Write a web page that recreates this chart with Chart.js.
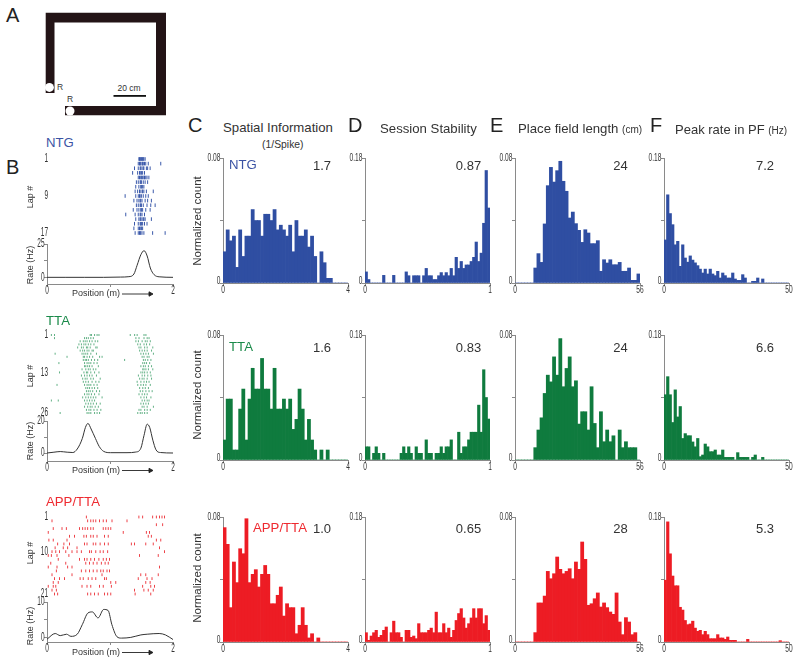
<!DOCTYPE html>
<html>
<head>
<meta charset="utf-8">
<title>Place cell panels</title>
<script src="https://cdn.jsdelivr.net/npm/chart.js@4"></script>
<style>
  html, body { margin: 0; background: #fff; }
  #page { position: relative; width: 800px; height: 663px; overflow: hidden; font-family: "Liberation Sans", Arial, sans-serif; color: #2b2b2b; }
  #page canvas { position: absolute; }
  #page svg { position: absolute; left: 0; top: 0; }
  .t { position: absolute; white-space: nowrap; line-height: 1; }
</style>
</head>
<body>
<div id="page">
  <svg width="800" height="663">
    <!-- maze -->
    <path fill="#231416" d="M45.7 12.7H166V115.3H65V106H156V22.5H54.5V93H45.7Z"/>
    <circle cx="49.4" cy="87.4" r="4.5" fill="#fff"/>
    <circle cx="70" cy="111" r="4.5" fill="#fff"/>
    <rect x="113.5" y="95" width="32.5" height="1.8" fill="#111"/>
    <!-- arrows next to Position (m) -->
    <g stroke="#222" fill="#222" stroke-width="0.9">
      <line x1="122" y1="294" x2="150" y2="294"/><path d="M149 291.8L153 294L149 296.2Z"/>
      <line x1="122" y1="470.5" x2="150" y2="470.5"/><path d="M149 468.3L153 470.5L149 472.7Z"/>
      <line x1="122" y1="652.5" x2="150" y2="652.5"/><path d="M149 650.3L153 652.5L149 654.7Z"/>
    </g>
  </svg>
</div>
<script>
// ---- histogram values, one array per panel (normalized count per bin) ----
const ntgInfo = [.020,.034,.027,.030,.010,.034,.017,.030,.030,.047,.040,.040,.030,.044,.044,.040,.047,.034,.037,.034,.030,.037,.020,.040,.030,.030,.034,.023,.030,.017,0,.020,.013,.003,.003,0,0,0,0,0];
const ntgStab = [.016,.005,0,0,0,0,0,.011,0,0,0,.011,0,0,0,0,.016,.0105,0,.0105,.0105,.0105,0,.0105,.021,.0105,.0105,.005,.005,.0105,.015,.0105,.015,.0105,.021,.0105,.037,.021,.031,.021,.026,.026,.031,.037,.059,.031,.043,.086,.162,.108];
const ntgLen = [0,0,0,0,0,0,.0096,.0188,.0132,.0378,.0623,.074,.0646,.0719,.0779,.0651,.0587,.0416,.0454,.038,.0337,.026,.0341,.032,.0252,.0252,.0271,.0075,.0149,.0128,.0149,.0117,.0117,.0132,.0075,.0075,.0096,.0017,.0017,.0058];
const ntgPeak = [.062,.127,.1,.084,.055,.06,.024,.055,.036,.03,.039,.033,.029,.025,.02,.0144,.02,.013,.02,.013,.0106,.0168,.0072,.0144,.0106,.0072,.0072,.0144,.0058,.0038,.0038,.012,.0072,0,0,.0024,.0024,.0072,0,.0058,0,0,0,0,0,0,0,0,0,0];

const ttaInfo = [.0128,.039,.039,.0064,.0064,.0326,.0454,.0128,.039,.0587,.0454,.0454,.065,.0454,.0454,.0326,.0587,.0326,.0326,.039,.0326,.039,.0196,.026,.0454,.0326,.0128,.026,.0128,.0064,0,.0064,0,.0064,0,0,0,0,0,0];
const ttaStab = [.019,.019,0,.0096,.019,.0096,0,.0096,0,0,0,0,0,0,.0096,.019,.0096,.019,.0096,0,.019,.0096,.0096,0,.029,.0096,.0096,0,.0096,.0096,.019,.0096,.019,.019,.029,0,0,.04,.0096,.019,.019,.029,.04,.04,.04,.079,.04,.13,.09,.059];
const ttaLen = [0,0,0,0,0,0,.0079,.0192,.027,.0426,.0543,.05,.066,.0543,.0777,.0469,.0586,.066,.0469,.0507,.023,.0309,.0309,.0192,.0469,.0234,.0079,.0309,.0117,.0192,.0117,.0155,0,.0192,.0079,.0117,.0079,.0079,.0079,0];
const ttaPeak = [.094,.12,.094,.054,.101,.062,.077,.031,.038,.035,.035,.026,.019,.031,.0048,.0072,.023,.019,.012,.012,.0144,.0072,.0072,.0144,.0038,.0038,.0038,.0038,0,.0106,.0038,.0038,.0038,.0038,0,.0038,.0072,0,0,.0038,0,0,0,0,0,0,0,0,0,0];

const appInfo = [.0732,.0625,.022,.0512,.038,.0597,.0565,.0789,.038,.0433,.0463,.0352,.0433,.049,.0433,.0245,.0245,.0299,.0352,.0166,.0245,.022,.022,.0053,.0107,.022,.0107,.0026,.0053,0,.0026,0,0,0,0,0,0,0,0,0];
const appStab = [.0134,.0024,.0086,.0134,.0168,.0067,.0096,.0168,.0216,0,.0134,.03,.0134,.0134,.0067,0,.0168,.0168,.0067,.0086,.0048,.0264,.0134,.0134,.0134,.0168,.02,.0134,.043,.0134,.0134,.0264,.0134,.02,.0067,.0168,.031,.041,.048,.0346,.02,.0264,.0346,.048,.0346,.048,.048,.0264,.038,.0168];
const appLen = [0,0,0,0,0,0,.006,.025,.025,.0294,.0452,.0405,.0437,.0544,.0465,.0437,.0452,.0469,.0405,.0512,.0465,.064,.0529,.0235,.0245,.0277,.0314,.0224,.025,.022,.0192,.0177,.0314,.0128,.0047,.0156,.0128,.0047,.006,0];
const appPeak = [.089,.173,.127,.095,.081,.081,.05,.046,.031,.025,.026,.03,.02,.0154,.0168,.0106,.0154,.0106,.0048,.0048,.0048,.0106,.0058,.0058,.0038,.0072,.0024,.0024,.0024,0,0,0,0,.0038,0,0,0,0,0,0,0,0,0,0,0,0,.0019,0,0,0];

// ---- rate curves ----
const ntgRatePos = [0,.3,.6,.9,1.17,1.3,1.38,1.43,1.49,1.54,1.59,1.64,1.7,1.78,2];
const ntgRate = [0,0,0,0,.2,.5,2.5,9,17,20,16,7,2,.4,0];
const ttaRatePos = [0,.11,.21,.32,.41,.48,.56,.61,.65,.7,.77,.83,.9,1.01,1.27,1.41,1.49,1.54,1.59,1.63,1.68,1.73,1.8,2];
const ttaRate = [0,.5,.9,.5,.3,2.5,9,16,18.5,15,9,4,1,.2,.2,.6,3,11,18,16,8,2,.3,0];
const appRatePos = [0,.13,.21,.31,.38,.48,.56,.65,.72,.81,.9,.97,1.03,1.11,1.18,1.33,1.49,1.59,1.78,1.88,2];
const appRate = [-.5,1.1,.5,.9,.3,.9,3.6,6.9,7.2,5.5,7.9,7.6,3.6,.2,-.2,0,.7,.9,1.1,.7,-.6];

// ---- spike positions (m), one list per lap ----
const ntgLaps = [
  [1.47,1.48,1.49,1.5,1.51,1.52,1.53,1.54,1.55,1.57],
  [1.46,1.48,1.49,1.5,1.52,1.53,1.54,1.56,1.58,1.62,1.82],
  [1.4,1.46,1.49,1.5,1.52,1.54,1.55,1.59,1.61,1.65],
  [1.37,1.45,1.48,1.5,1.51,1.53,1.56],
  [1.46,1.48,1.5,1.51,1.53,1.55,1.56,1.58,1.6,1.63],
  [1.43,1.46,1.49,1.5,1.51,1.54,1.57,1.61],
  [1.42,1.47,1.5,1.51,1.53,1.55],
  [1.41,1.45,1.48,1.49,1.52,1.53,1.55,1.59,1.7],
  [1.25,1.42,1.46,1.48,1.49,1.51,1.54,1.58,1.62],
  [1.39,1.44,1.47,1.49,1.5,1.52,1.57,1.61,1.67],
  [1.43,1.46,1.49,1.5,1.51,1.54,1.6,1.66,1.73],
  [1.38,1.44,1.47,1.5,1.51,1.53,1.58,1.65],
  [1.26,1.41,1.46,1.49,1.5,1.52,1.56],
  [1.42,1.47,1.49,1.5,1.52,1.54,1.55,1.57,1.67],
  [1.4,1.46,1.49,1.5,1.51,1.53,1.56,1.6],
  [1.39,1.46,1.48,1.5,1.51,1.53],
  [1.41,1.46,1.48,1.49,1.5,1.52,1.55,1.69,1.89]
];
const ttaLaps = [
  [.07,.12,.69,.71,.76,.8,.83,1.33,1.4,1.44,1.55,1.58],
  [.12,.6,.63,.66,.7,.74,1.42,1.47,1.55,1.6,1.63],
  [.53,.58,.61,.64,.68,.72,.77,.81,1.42,1.46,1.52,1.57,1.6,1.65],
  [.51,.55,.59,.62,.66,.7,.75,1.45,1.49,1.55,1.59,1.64],
  [.49,.55,.58,.63,.65,.69,.78,.8,1.47,1.5,1.56,1.6,1.69],
  [.53,.57,.6,.64,.67,.72,.74,1.48,1.52,1.56,1.6,1.67],
  [.13,.56,.59,.62,.65,.7,.79,1.5,1.54,1.58,1.62,1.7],
  [.32,.58,.6,.64,.68,.73,.84,.88,1.52,1.55,1.6,1.63],
  [.58,.61,.63,.66,.71,.76,.81,1.24,1.54,1.57,1.61,1.66],
  [.19,.6,.64,.67,.7,.75,.8,1.53,1.56,1.59,1.64],
  [.6,.62,.65,.68,.72,.82,1.5,1.54,1.57,1.62,1.67],
  [.56,.62,.66,.69,.74,.78,1.53,1.55,1.58,1.62,1.69],
  [.2,.59,.63,.65,.7,.76,.83,1.5,1.53,1.56,1.6,1.65],
  [.55,.6,.64,.68,.72,.79,1.46,1.52,1.56,1.61,1.66],
  [.57,.61,.64,.7,.74,.85,1.48,1.52,1.55,1.6,1.67],
  [.58,.62,.66,.72,.78,.83,1.44,1.5,1.55,1.59,1.63],
  [.16,.6,.64,.67,.7,.75,.8,1.45,1.5,1.54,1.58,1.65],
  [.62,.65,.68,.72,.76,.81,1.48,1.53,1.57,1.62],
  [.63,.66,.69,.73,.79,.84,1.49,1.53,1.58,1.63,1.68],
  [.6,.64,.67,.71,.76,.83,1.47,1.52,1.56,1.6],
  [.57,.62,.66,.7,.74,.78,.88,1.5,1.55,1.59,1.66],
  [.07,.18,.6,.64,.68,.72,.76,1.52,1.56,1.6,1.63],
  [.62,.66,.7,.74,.79,.85,1.5,1.54,1.58,1.62],
  [.6,.65,.69,.72,.77,.82,1.52,1.55,1.6,1.7],
  [.63,.67,.7,.75,.8,.86,1.47,1.5,1.56,1.6,1.65],
  [.21,.64,.67,.7,.76,.8,.84,1.45,1.49,1.52,1.56,1.6]
];
const appLaps = [
  [.63,1.47,1.53,1.69,1.75,1.8,1.84,1.88],
  [.08,.65,.7,.74,.78,.84,.9,.95,1.04,1.28],
  [1.75,1.85],
  [.1,.24,.31,.52,.57,.61,.65,.7,.74,.9,.94,.98,1.02],
  [.02,1.22,1.59,1.64],
  [.36,.44,.59,.63,.7,.74,.8,.92,.98,1.62,1.67],
  [.03,.1,.32,1.75,1.82],
  [.17,.27,.36,.6,.64,.74,.78,.85,.92,.98,1.35,1.4,1.58,1.7],
  [.13,.26,.33,.48,1.8],
  [.08,.14,.2,.3,.4,.48,.55,.68,.71,.78,.85,.9,.97,1.88],
  [.02,.07,.16,.35,1.48,1.78],
  [.18,.52,.6,.64,.7,.76,.83,.9,.95,1.0],
  [.06,.3,.62,.68,.74,.8,.87,.93,.98],
  [.02,.16,.33,.4,1.8],
  [.15,.55,.62,.68,.74,.8,.86,.9,.96,1.0],
  [.08,.4,.88,1.5,1.58,1.78],
  [.12,.2,.28,.53,.58,.66,.72,.78,.92,.95,1.46,1.6,1.68],
  [.1,.18,1.02,1.1,1.58,1.65],
  [.02,.1,.14,.56,.64,.7,.84,.9,1.03,1.53,1.66,1.72],
  [.08,.15,1.4,1.55,1.62,1.7],
  [.12,.17,.65,.7,.76,.82,.92,.97,1.02,1.41,1.66]
];

// ---- tick labels and text ----
const xMaxes = [4, 1, 56, 50];
const yMaxes = [.08, .18, .08, .18];
const medians = [['1.7','0.87','24','7.2'], ['1.6','0.83','24','6.6'], ['1.0','0.65','28','5.3']];

const page = document.getElementById('page');
const axisGrey = '#8a8a8a';

// rótulos dos eixos são estreitos na figura original, a fonte narrow não existe aqui
const narrowTicks = {
    id: 'narrowTicks',
    afterDraw(chart, args, opts) {
        const ctx = chart.ctx;
        ctx.save();
        ctx.fillStyle = '#333';
        ctx.font = opts.size + 'px "Liberation Sans"';
        ctx.textBaseline = 'middle';
        ['x', 'y'].forEach(id => {
            const s = chart.scales[id];
            if (!s.options.display) return;
            s.ticks.forEach(t => {
                if (!t.label && t.label !== 0) return;
                const px = s.getPixelForValue(t.value);
                ctx.save();
                if (id === 'y') {
                    ctx.textAlign = 'right';
                    ctx.translate(s.right - opts.gap, px + (t.value === 0 ? opts.zeroShift : 0));
                } else {
                    ctx.textAlign = 'center';
                    ctx.translate(px, chart.chartArea.bottom + 7);
                }
                ctx.scale(opts.squeeze, 1);
                ctx.fillText(t.label, 0, 0);
                ctx.restore();
            });
        });
        ctx.restore();
    }
};
Chart.register(narrowTicks);

function addCanvas(left, top, w, h) {
    const c = document.createElement('canvas');
    c.width = w; c.height = h;
    c.style.left = left + 'px';
    c.style.top = top + 'px';
    page.appendChild(c);
    return c;
}

function setTicks(values) {
    return scale => { scale.ticks = values.map(v => ({ value: v })); };
}

// eixo com os rótulos só nas pontas
function endLabels(values) {
    return (v) => (v === values[0] || v === values[values.length - 1]) ? String(v) : '';
}

function drawHist(x0, yTop, values, xMax, yMax, color) {
    const w = 124.7, h = 125, left = 26, top = 8;
    const binW = xMax / values.length;
    const yTicks = [0, yMax / 2, yMax];
    new Chart(addCanvas(x0 - left, yTop - top, Math.ceil(w + left + 10), h + top + 18), {
        type: 'bar',
        data: { datasets: [{
            data: values.map((v, i) => ({ x: (i + .5) * binW, y: v })),
            backgroundColor: color, borderWidth: 0,
            barPercentage: 1, categoryPercentage: 1
        }] },
        options: {
            responsive: false, animation: false,
            layout: { padding: { top: top, right: 10 } },
            plugins: {
                legend: { display: false }, tooltip: { enabled: false },
                narrowTicks: { size: 11, squeeze: .6, gap: 2.7, zeroShift: -2 }
            },
            scales: {
                x: {
                    type: 'linear', min: 0, max: xMax, offset: false,
                    afterBuildTicks: setTicks([0, xMax]),
                    afterFit: s => { s.height = 18; },
                    grid: { drawOnChartArea: false, offset: false, tickLength: 3, color: axisGrey },
                    border: { color: axisGrey },
                    ticks: { display: false, autoSkip: false, callback: endLabels([0, xMax]) }
                },
                y: {
                    min: 0, max: yMax,
                    afterBuildTicks: setTicks(yTicks),
                    afterFit: s => { s.width = left; },
                    grid: { drawOnChartArea: false, tickLength: 3, color: axisGrey },
                    border: { color: axisGrey },
                    ticks: { display: false, autoSkip: false, callback: endLabels(yTicks) }
                }
            }
        }
    });
}

function drawRaster(yTop, yBottom, laps, labels, color, radius, width) {
    const left = 26, pad = 6;
    const pts = laps.flatMap((spikes, i) => spikes.map(p => ({ x: p, y: i + 1 })));
    new Chart(addCanvas(46.7 - left, yTop - pad, 126 + left + 4, yBottom - yTop + pad * 2), {
        type: 'scatter',
        data: { datasets: [{
            data: pts, clip: false,
            pointStyle: 'line', rotation: 90, radius: radius,
            borderColor: color, backgroundColor: color, borderWidth: width
        }] },
        options: {
            responsive: false, animation: false,
            layout: { padding: { top: pad, bottom: pad, right: 4 } },
            plugins: {
                legend: { display: false }, tooltip: { enabled: false },
                narrowTicks: { size: 12.5, squeeze: .52, gap: -1, zeroShift: 0 }
            },
            scales: {
                x: { type: 'linear', min: 0, max: 2, display: false },
                y: {
                    type: 'linear', reverse: true, min: 1, max: laps.length,
                    afterBuildTicks: setTicks(labels),
                    afterFit: s => { s.width = left; },
                    grid: { display: false },
                    border: { display: false },
                    ticks: { display: false, autoSkip: false, callback: v => String(v) }
                }
            }
        }
    });
}

function drawRate(yBottom, pos, rate, yMin, yMax) {
    const left = 26, top = 8, h = 39.4;
    const yTicks = [0, yMax / 2, yMax];
    new Chart(addCanvas(46.7 - left, yBottom - h - top, 126 + left + 8, Math.ceil(h + top + 18)), {
        type: 'line',
        data: { datasets: [{
            data: pos.map((p, i) => ({ x: p, y: rate[i] })),
            borderColor: '#333', borderWidth: 1, pointRadius: 0,
            cubicInterpolationMode: 'monotone'
        }] },
        options: {
            responsive: false, animation: false,
            layout: { padding: { top: top, right: 8 } },
            plugins: {
                legend: { display: false }, tooltip: { enabled: false },
                narrowTicks: { size: 12.5, squeeze: .52, gap: 2.4, zeroShift: 0 }
            },
            scales: {
                x: {
                    type: 'linear', min: 0, max: 2,
                    afterBuildTicks: setTicks([0, 1, 2]),
                    afterFit: s => { s.height = 18; },
                    grid: { drawOnChartArea: false, tickLength: 3, color: axisGrey },
                    border: { color: axisGrey },
                    ticks: { display: false, autoSkip: false, callback: endLabels([0, 2]) }
                },
                y: {
                    min: yMin, max: yMax,
                    afterBuildTicks: setTicks(yTicks),
                    afterFit: s => { s.width = left; },
                    grid: { drawOnChartArea: false, tickLength: 3, color: axisGrey },
                    border: { color: axisGrey },
                    ticks: { display: false, autoSkip: false, callback: v => (v === 0 || v === yMax) ? String(v) : '' }
                }
            }
        }
    });
}

// texto: x,y = centro quando align é 'c', borda esquerda quando é 'l'
function text(str, x, y, size, color, align, rotate) {
    const d = document.createElement('div');
    d.className = 't';
    d.textContent = str;
    d.style.left = x + 'px';
    d.style.top = y + 'px';
    d.style.fontSize = size + 'px';
    if (color) d.style.color = color;
    const tx = align === 'l' ? '0' : '-50%';
    d.style.transform = 'translate(' + tx + ',-50%)' + (rotate ? ' rotate(-90deg)' : '');
    page.appendChild(d);
    return d;
}

const blue = '#2f4ea2', green = '#0f7b3e', red = '#ed1c24';
const colX = [223.3, 365, 515, 664];
const rowTop = [158, 335, 517];
const rowColor = [blue, green, red];
const rowData = [
    [ntgInfo, ntgStab, ntgLen, ntgPeak],
    [ttaInfo, ttaStab, ttaLen, ttaPeak],
    [appInfo, appStab, appLen, appPeak]
];
rowData.forEach((row, r) => {
    row.forEach((vals, c) => {
        drawHist(colX[c], rowTop[r], vals, xMaxes[c], yMaxes[c], rowColor[r]);
    });
});

drawRaster(159, 233, ntgLaps, [1, 9, 17], '#3a58aa', 1.8, 1);
drawRaster(335, 413, ttaLaps, [1, 13, 26], '#3a9d66', 1, .8);
drawRaster(517, 594, appLaps, [1, 10, 21], '#ee4248', 1.4, 1);
drawRate(283, ntgRatePos, ntgRate, -5, 25);
drawRate(460, ttaRatePos, ttaRate, -5, 20);
drawRate(641.7, appRatePos, appRate, -1.3, 10);

// letras dos painéis
text('A', 6, 15, 20, '#222', 'l');
text('B', 6, 167, 20, '#222', 'l');
text('C', 188, 125, 20, '#222', 'l');
text('D', 348, 125, 20, '#222', 'l');
text('E', 490, 125, 20, '#222', 'l');
text('F', 650, 125, 20, '#222', 'l');

// títulos
text('Spatial Information', 223, 128, 13.2, '#333', 'l');
text('(1/Spike)', 262, 145, 10.4, '#333', 'l');
text('Session Stability', 380, 129, 13.2, '#333', 'l');
const lenTitle = text('Place field length ', 518, 129, 13.2, '#333', 'l');
lenTitle.innerHTML = 'Place field length <span style="font-size:10px">(cm)</span>';
const peakTitle = text('Peak rate in PF ', 675, 129, 13, '#333', 'l');
peakTitle.innerHTML = 'Peak rate in PF <span style="font-size:10px">(Hz)</span>';

// colunas: medianas e nomes dos grupos
const medianX = [322, 468.5, 620.5, 765];
const rowMid = [165, 347, 528];
medians.forEach((row, r) => row.forEach((m, c) => text(m, medianX[c], rowMid[r], 13, '#333')));
text('NTG', 229, 165, 13.2, '#3b53a4', 'l');
text('TTA', 229, 347, 13.2, '#1a8a4a', 'l');
text('APP/TTA', 253, 528, 13.2, '#ee2a30', 'l');
[221, 395, 578].forEach(y => text('Normalized count', 198, y, 11.5, '#333', 'c', true));

// painel A
text('R', 60, 87, 8.5, '#333');
text('R', 70, 99, 8.5, '#333');
text('20 cm', 129, 87.5, 8.5, '#333');

// painel B
text('NTG', 46, 143, 13.2, '#3b53a4', 'l');
text('TTA', 46, 321, 13.2, '#1a8a4a', 'l');
text('APP/TTA', 46, 502, 13.2, '#ee2a30', 'l');
[[197, 265, 293], [376, 441, 470], [553, 626, 652]].forEach(ys => {
    text('Lap #', 30, ys[0], 9, '#333', 'c', true);
    text('Rate (Hz)', 30, ys[1], 9, '#333', 'c', true);
    text('Position (m)', 96, ys[2], 9, '#333');
});
</script>
</body>
</html>
